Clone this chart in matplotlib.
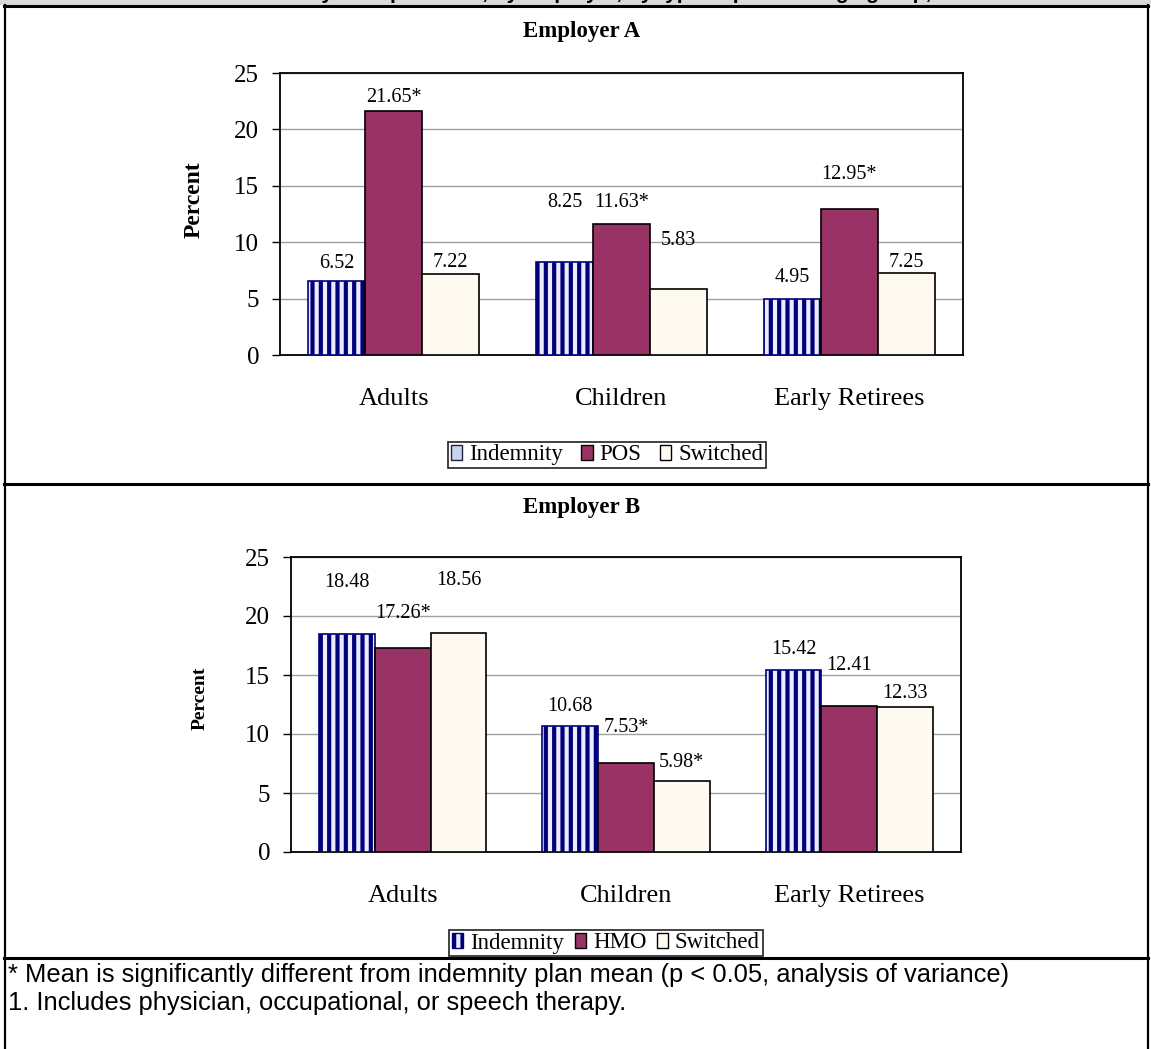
import matplotlib
matplotlib.use("Agg")
import matplotlib.pyplot as plt
from matplotlib.patches import Patch, Rectangle
from matplotlib.lines import Line2D

# ---- data -------------------------------------------------------------
categories = ["Adults", "Children", "Early Retirees"]

a_series = ["Indemnity", "POS", "Switched"]
a_indemnity = [6.52, 8.25, 4.95]
a_pos = [21.65, 11.63, 12.95]
a_switched = [7.22, 5.83, 7.25]
a_indemnity_sig = [False, False, False]
a_pos_sig = [True, True, True]
a_switched_sig = [False, False, False]

b_series = ["Indemnity", "HMO", "Switched"]
b_indemnity = [18.48, 10.68, 15.42]
b_hmo = [17.26, 7.53, 12.41]
b_switched = [18.56, 5.98, 12.33]
b_indemnity_sig = [False, False, False]
b_hmo_sig = [True, True, False]
b_switched_sig = [False, True, False]

y_ticks = [0, 5, 10, 15, 20, 25]

footnotes = [
    "* Mean is significantly different from indemnity plan mean (p < 0.05, analysis of variance)",
    "1. Includes physician, occupational, or speech therapy.",
]
heading = "Percent with any therapist visit\u00b9, by employer, by type of plan and age group, 1995"

# ---- layout / style ---------------------------------------------------
W, H = 1151, 1049
DPI = 100
SERIF = ["Liberation Serif", "DejaVu Serif"]
SANS = ["Liberation Sans", "DejaVu Sans"]

C_IND_FACE = "#ecebff"
C_IND_EDGE = "#00007a"
C_PLAN = "#993366"
C_SW = "#fffaf0"

plt.rcParams["hatch.linewidth"] = 3.0

# label lift above each bar top, in pixels
a_lift = [[18, 59, 22], [13, 21, 34], [11, 49, 11]]
b_lift = [[51, 19, 21], [35, 36, 40], [52, 19, 13]]


def fx(px):
    return px / W


def fy(py):
    return 1 - py / H


fig = plt.figure(figsize=(W / DPI, H / DPI), dpi=DPI)
fig.patch.set_facecolor("white")


def draw_panel(rect, values, sigs, lifts, names, title, title_y, ylabel_size,
               ylabel_pos, legend_box, legend_hatched, legend_gap):
    left, top, right, bottom = rect
    ax = fig.add_axes([fx(left), fy(bottom), fx(right - left), (bottom - top) / H])
    width = 0.25
    offsets = [-width, 0.0, width]
    styles = [
        dict(facecolor=C_IND_FACE, edgecolor=C_IND_EDGE, hatch="||", linewidth=1.2),
        dict(facecolor=C_PLAN, edgecolor="black", linewidth=1.2),
        dict(facecolor=C_SW, edgecolor="black", linewidth=1.2),
    ]
    xs = list(range(len(categories)))
    for k in range(3):
        pos = [x + offsets[k] for x in xs]
        bars = ax.bar(pos, values[k], width=width, zorder=3, **styles[k])
        for bar, v, s, lift in zip(bars, values[k], sigs[k], lifts[k]):
            txt = f"{v:.2f}" + ("*" if s else "")
            ax.annotate(txt, (bar.get_x() + bar.get_width() / 2, v),
                        xytext=(0, lift), textcoords="offset pixels",
                        ha="center", va="center", fontsize=14.5,
                        family=SERIF, zorder=4)
    ax.set_xlim(-0.5, len(categories) - 0.5)
    ax.set_ylim(0, 25)
    ax.set_yticks(y_ticks)
    ax.set_xticks(xs)
    ax.set_xticklabels(categories, family=SERIF, fontsize=19)
    for lab in ax.get_yticklabels():
        lab.set_family(SERIF)
        lab.set_fontsize(18)
    ax.tick_params(axis="x", length=0, pad=24)
    ax.tick_params(axis="y", length=6, width=1, pad=9, direction="out")
    ax.yaxis.grid(True, color="#a0a0a0", linewidth=1.0)
    ax.set_axisbelow(True)
    for sp in ax.spines.values():
        sp.set_color("black")
        sp.set_linewidth(1.3)
    ax.set_ylabel("Percent", family=SERIF, fontweight="bold", fontsize=ylabel_size)
    lx_px, ly_frac = ylabel_pos
    ax.yaxis.set_label_coords((lx_px - left) / (right - left), ly_frac)

    fig.text(fx(582), fy(title_y), title, ha="center", va="center",
             family=SERIF, fontweight="bold", fontsize=16.5)

    if legend_hatched:
        h0 = Patch(facecolor=C_IND_FACE, edgecolor=C_IND_EDGE, hatch="||", linewidth=1)
    else:
        h0 = Patch(facecolor="#c6d4f0", edgecolor="#202040", linewidth=1)
    handles = [h0,
               Patch(facecolor=C_PLAN, edgecolor="black", linewidth=1),
               Patch(facecolor=C_SW, edgecolor="black", linewidth=1)]
    lx, ly = legend_box
    leg = fig.legend(handles, names, loc="center", bbox_to_anchor=(fx(lx), fy(ly)),
                     ncol=3, frameon=True, fancybox=False, shadow=False,
                     prop=dict(family=SERIF, size=16.5), handlelength=0.5,
                     handleheight=0.65, handletextpad=0.3, columnspacing=legend_gap,
                     borderpad=0.12, borderaxespad=0)
    leg.get_frame().set_edgecolor("black")
    leg.get_frame().set_linewidth(1.3)
    return ax


draw_panel((280, 73, 963, 355),
           [a_indemnity, a_pos, a_switched],
           [a_indemnity_sig, a_pos_sig, a_switched_sig],
           a_lift, a_series, "Employer A", 32, 17, (205, 0.55), (607, 455), False, 0.8)

draw_panel((291, 557, 961, 852),
           [b_indemnity, b_hmo, b_switched],
           [b_indemnity_sig, b_hmo_sig, b_switched_sig],
           b_lift, b_series, "Employer B", 508, 14, (209, 0.52), (606, 943), True, 0.45)

# ---- table frame, heading band and footnotes -------------------------
fig.add_artist(Rectangle((0, fy(5)), 1, 5 / H, transform=fig.transFigure,
                         facecolor="#d9d9d9", edgecolor="none", zorder=0))
fig.text(fx(575), fy(-1), heading, ha="center", va="baseline", family=SANS,
         fontweight="bold", fontsize=15, zorder=2)


def hline(py, lw):
    fig.add_artist(Line2D([fx(4), fx(1148)], [fy(py), fy(py)], transform=fig.transFigure,
                          color="black", linewidth=lw, zorder=5))


def vline(px, lw):
    fig.add_artist(Line2D([fx(px), fx(px)], [fy(5), 0], transform=fig.transFigure,
                          color="black", linewidth=lw, zorder=5))


hline(6, 2.2)
hline(484, 2.2)
hline(958, 2.2)
vline(5, 1.6)
vline(1148, 1.6)

for text, py in zip(footnotes, [975, 1003]):
    fig.text(fx(8), fy(py), text, ha="left", va="center", family=SANS, fontsize=18.4)

fig.savefig("out.png", dpi=DPI, facecolor="white")
